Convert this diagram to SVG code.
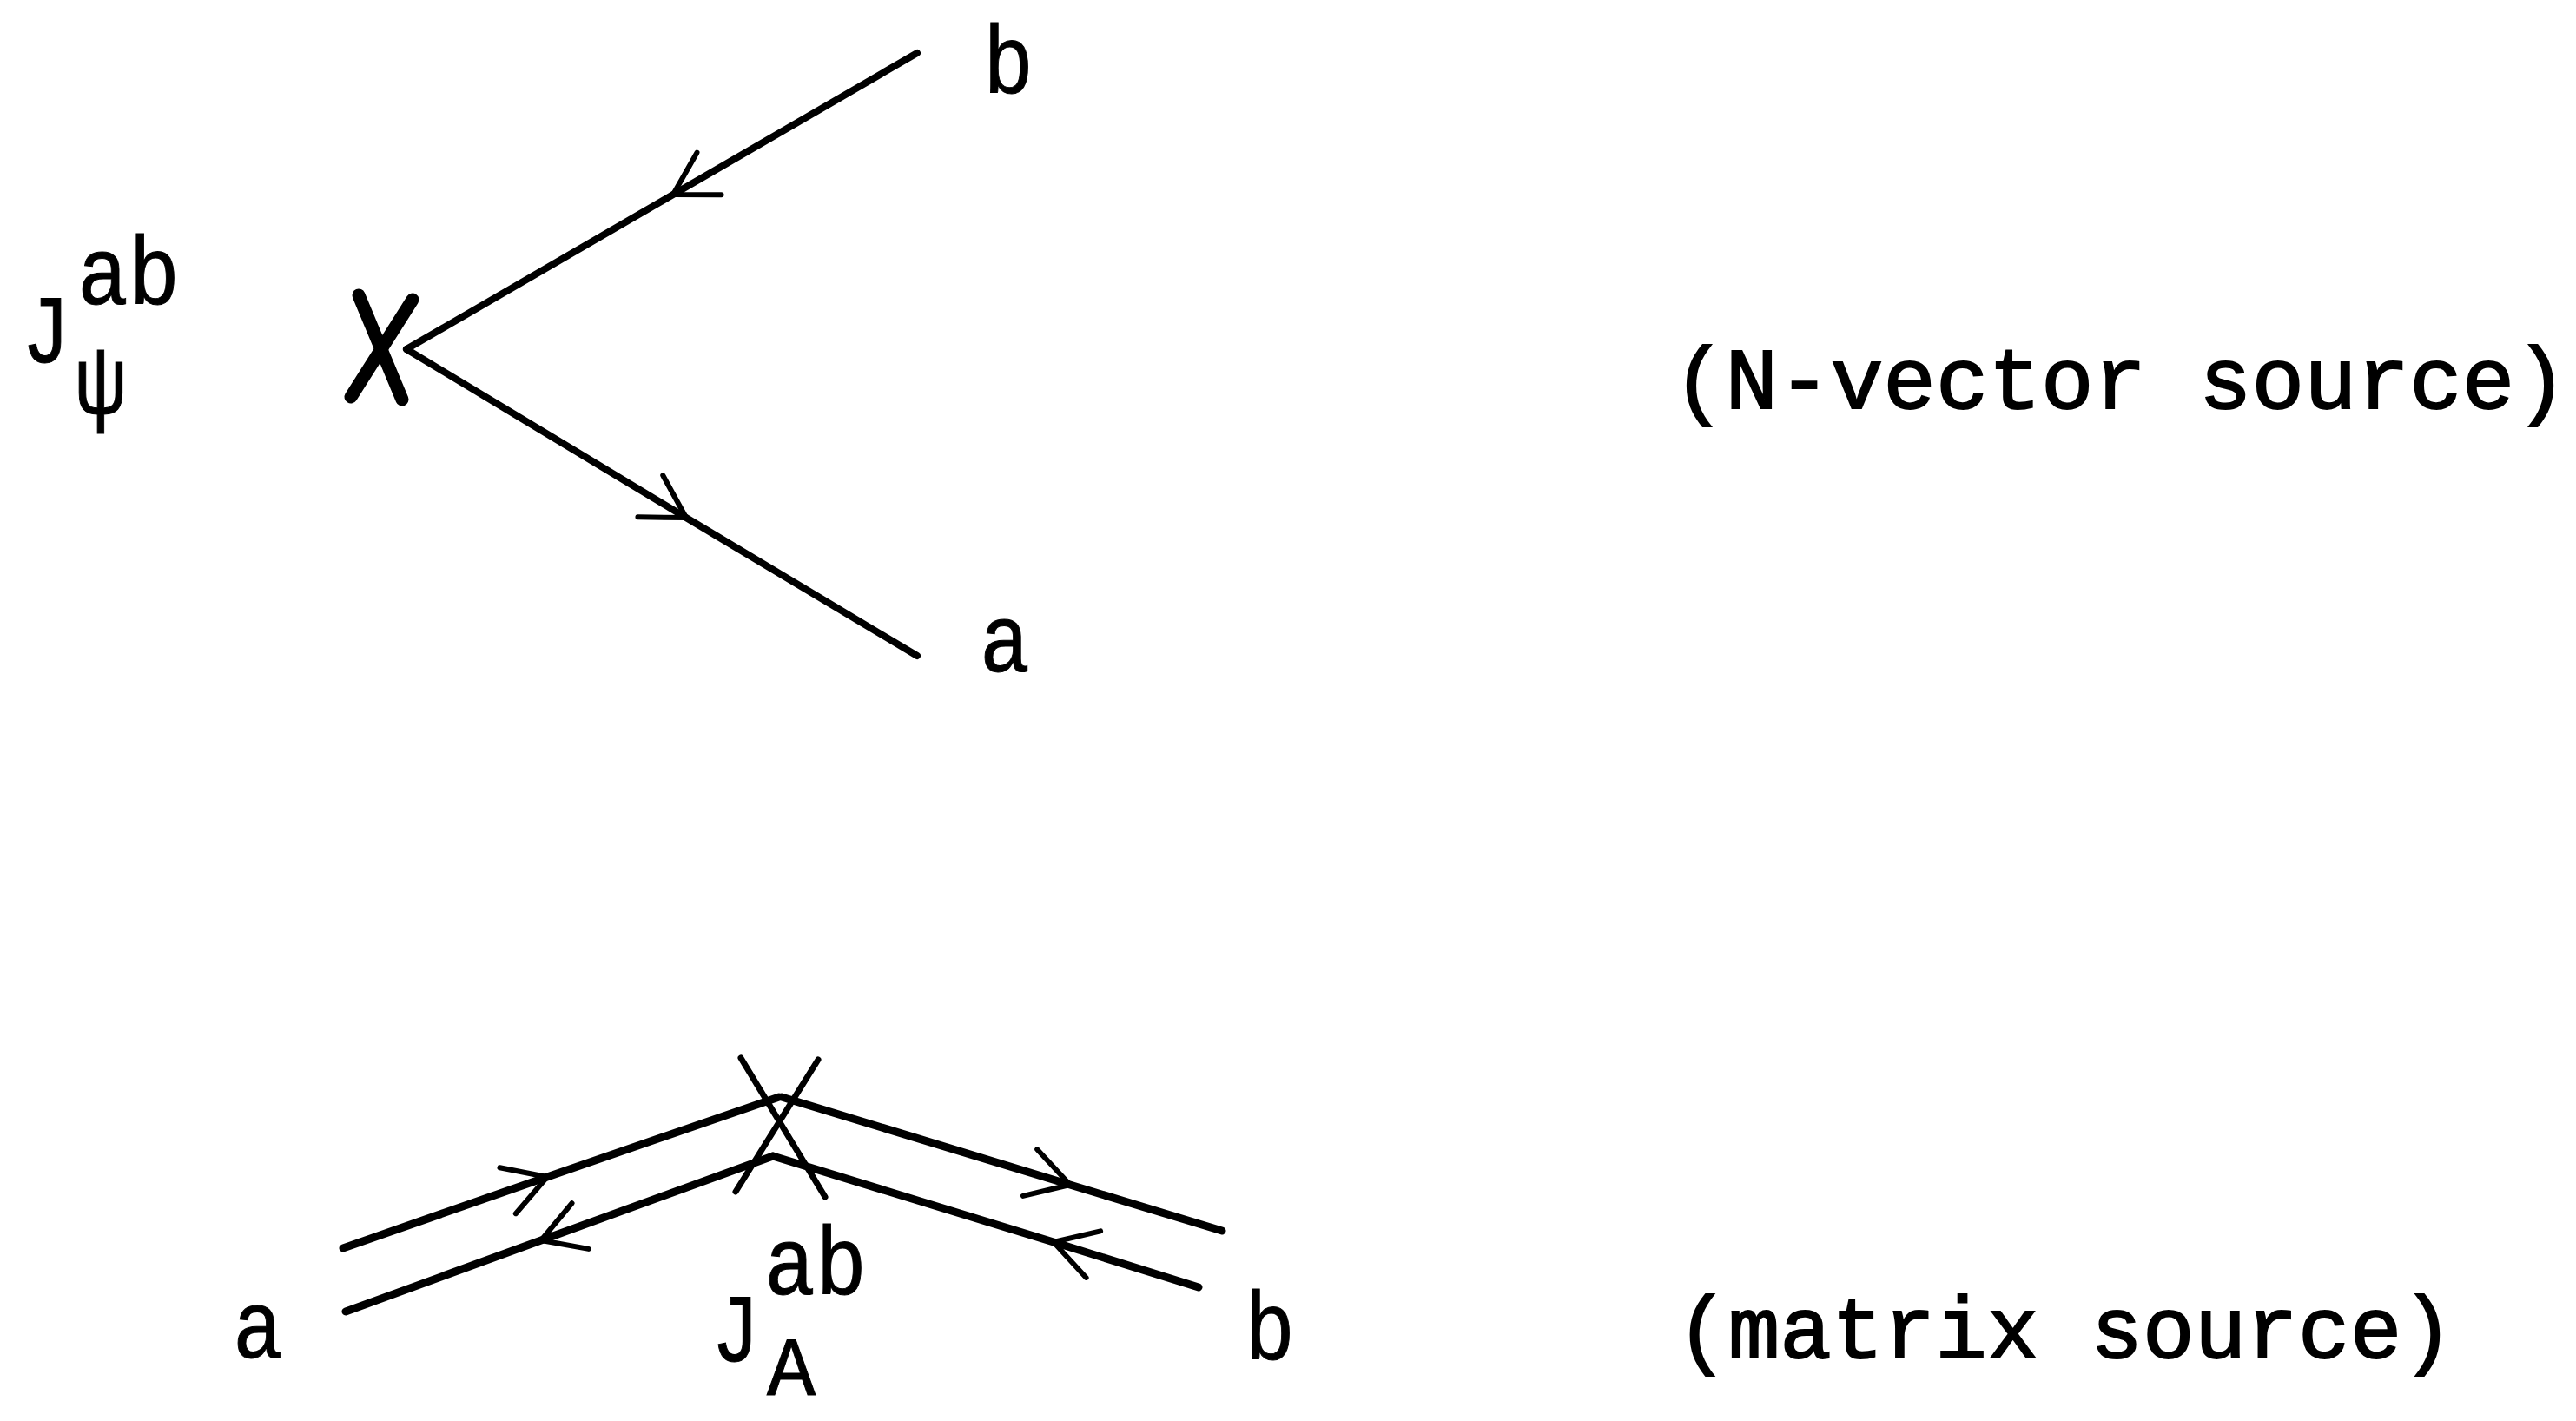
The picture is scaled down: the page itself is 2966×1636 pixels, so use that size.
<svg xmlns="http://www.w3.org/2000/svg" width="2966" height="1636" viewBox="0 0 2966 1636">
<style>
.ln{fill:none;stroke:#000;stroke-width:8;stroke-linecap:round;stroke-linejoin:round}
.ln2{fill:none;stroke:#000;stroke-width:9;stroke-linecap:round;stroke-linejoin:round}
.xm{fill:none;stroke:#000;stroke-width:15;stroke-linecap:round}
.xt{fill:none;stroke:#000;stroke-width:7;stroke-linecap:round}
.lb{font-family:"Liberation Mono","Courier New",monospace;font-size:112px;fill:#000;stroke:#000;stroke-width:1;text-anchor:middle}
.tx{font-family:"Liberation Mono","Courier New",monospace;font-size:101px;fill:#000;stroke:#000;stroke-width:2}
</style>
<defs>
<marker id="chev" markerUnits="userSpaceOnUse" markerWidth="120" markerHeight="120" viewBox="-60 -60 120 120" refX="0" refY="0" orient="auto" overflow="visible">
<path d="M-48,-28 L0,0 L-48,28" fill="none" stroke="#000" stroke-width="6" stroke-linecap="round" stroke-linejoin="round"/>
</marker>
</defs>
<rect width="2966" height="1636" fill="#fff"/>

<g id="connectors">
<polyline class="ln" points="1056,61 775,224 468,402" marker-mid="url(#chev)"/>
<polyline class="ln" points="468,402 790,596 1056,755" marker-mid="url(#chev)"/>
<polyline class="ln2" points="395,1437 630,1355 897,1263" marker-mid="url(#chev)"/>
<polyline class="ln2" points="900,1263 1232,1364 1407,1417" marker-mid="url(#chev)"/>
<polyline class="ln2" points="1380,1482 1213,1430 890,1331" marker-mid="url(#chev)"/>
<polyline class="ln2" points="890,1331 623,1428 398,1510" marker-mid="url(#chev)"/>
</g>

<g id="source-top">
<line class="xm" x1="413" y1="340" x2="463" y2="460"/>
<line class="xm" x1="475" y1="345" x2="404" y2="457"/>
</g>
<g id="source-bottom">
<line class="xt" x1="853" y1="1218" x2="950" y2="1378"/>
<line class="xt" x1="942" y1="1220" x2="847" y2="1372"/>
</g>

<g id="label-J-psi">
<text class="lb" x="53" y="417" textLength="56" lengthAdjust="spacingAndGlyphs">J</text>
<text class="lb" x="148" y="350" textLength="118" lengthAdjust="spacingAndGlyphs">ab</text>
<text class="lb" x="116" y="476" textLength="58" lengthAdjust="spacingAndGlyphs">ψ</text>
</g>
<g id="label-top-b"><text class="lb" x="1161" y="107" textLength="58" lengthAdjust="spacingAndGlyphs">b</text></g>
<g id="label-top-a"><text class="lb" x="1157" y="773" textLength="58" lengthAdjust="spacingAndGlyphs">a</text></g>
<g id="label-bottom-a"><text class="lb" x="297" y="1563" textLength="58" lengthAdjust="spacingAndGlyphs">a</text></g>
<g id="label-bottom-b"><text class="lb" x="1462" y="1565" textLength="58" lengthAdjust="spacingAndGlyphs">b</text></g>
<g id="label-J-A">
<text class="lb" x="847" y="1567" textLength="56" lengthAdjust="spacingAndGlyphs">J</text>
<text class="lb" x="939" y="1490" textLength="118" lengthAdjust="spacingAndGlyphs">ab</text>
<text class="lb" x="911" y="1606" style="font-size:96px" textLength="56" lengthAdjust="spacingAndGlyphs">A</text>
</g>

<g id="caption-top"><text class="tx" x="1926" y="470" textLength="1030" lengthAdjust="spacingAndGlyphs">(N-vector source)</text></g>
<g id="caption-bottom"><text class="tx" x="1930" y="1563" textLength="895" lengthAdjust="spacingAndGlyphs">(matrix source)</text></g>
</svg>
